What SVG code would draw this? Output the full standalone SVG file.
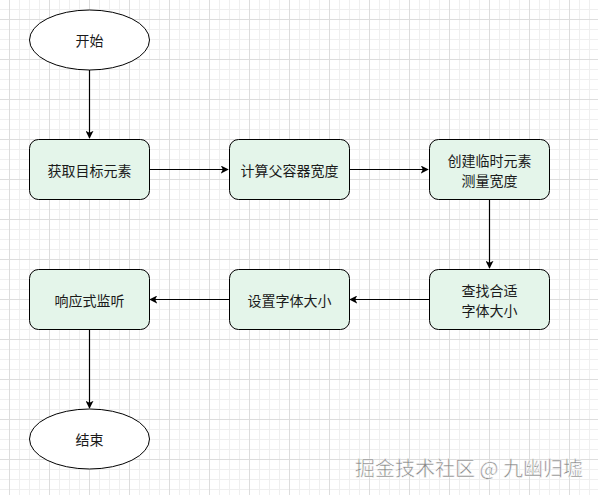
<svg xmlns="http://www.w3.org/2000/svg" width="598" height="495" viewBox="0 0 598 495">
<defs>
<pattern id="minor" width="10" height="10" patternUnits="userSpaceOnUse" x="9" y="9">
<path d="M0 0.5H10M0.5 0V10" fill="none" stroke="#efefef" stroke-width="1"/>
</pattern>
<pattern id="major" width="40" height="40" patternUnits="userSpaceOnUse" x="9" y="19">
<path d="M0 0.5H40M0.5 0V40" fill="none" stroke="#dddddd" stroke-width="1"/>
</pattern>
<marker id="arr" viewBox="0 0 10 10" refX="9" refY="5" markerWidth="8" markerHeight="8" markerUnits="userSpaceOnUse" orient="auto">
<path d="M0 0L10 5L0 10L2.5 5Z" fill="#000"/>
</marker>
</defs>
<style>
.box{fill:#e4f5ea;stroke:#000;stroke-width:1}
.ell{fill:#fff;stroke:#000;stroke-width:1}
.t{font-family:"Noto Sans CJK SC","Liberation Sans",sans-serif;font-size:14px;fill:#1a1a1a;text-anchor:middle;dominant-baseline:central}
.c{fill:none;stroke:#000;stroke-width:1.2;marker-end:url(#arr)}
</style>
<rect width="598" height="495" fill="#fff"/>
<rect width="598" height="495" fill="url(#minor)"/>
<rect width="598" height="495" fill="url(#major)"/>
<g id="connectors">
<path class="c" d="M89.5 70V138"/>
<path class="c" d="M149 169.5H228"/>
<path class="c" d="M349 169.5H428"/>
<path class="c" d="M489.5 199V268"/>
<path class="c" d="M429 299.5H350"/>
<path class="c" d="M229 299.5H150"/>
<path class="c" d="M89.5 329V408"/>
</g>
<g id="start"><ellipse class="ell" cx="89.5" cy="40" rx="60" ry="30"/><text class="t" x="89.5" y="40">开始</text></g>
<g id="getTarget"><rect class="box" x="29.5" y="139.5" width="120" height="60" rx="9"/><text class="t" x="89.5" y="169.5">获取目标元素</text></g>
<g id="calcParent"><rect class="box" x="229.5" y="139.5" width="120" height="60" rx="9"/><text class="t" x="289.5" y="169.5">计算父容器宽度</text></g>
<g id="createTemp"><rect class="box" x="429.5" y="139.5" width="120" height="60" rx="9"/><text class="t" x="489.5" y="159.5"><tspan x="489.5" y="159.5">创建临时元素</tspan><tspan x="489.5" y="180">测量宽度</tspan></text></g>
<g id="findSize"><rect class="box" x="429.5" y="269.5" width="120" height="60" rx="9"/><text class="t" x="489.5" y="289.5"><tspan x="489.5" y="289.5">查找合适</tspan><tspan x="489.5" y="310">字体大小</tspan></text></g>
<g id="setSize"><rect class="box" x="229.5" y="269.5" width="120" height="60" rx="9"/><text class="t" x="289.5" y="299.5">设置字体大小</text></g>
<g id="listen"><rect class="box" x="29.5" y="269.5" width="120" height="60" rx="9"/><text class="t" x="89.5" y="299.5">响应式监听</text></g>
<g id="end"><ellipse class="ell" cx="89.5" cy="439" rx="60" ry="30"/><text class="t" x="89.5" y="439">结束</text></g>
<text x="583" y="476" font-family="Noto Sans CJK SC, sans-serif" font-size="20" fill="#858585" stroke="#ffffff" stroke-width="0.5" text-anchor="end">掘金技术社区 @ 九幽归墟</text>
</svg>
